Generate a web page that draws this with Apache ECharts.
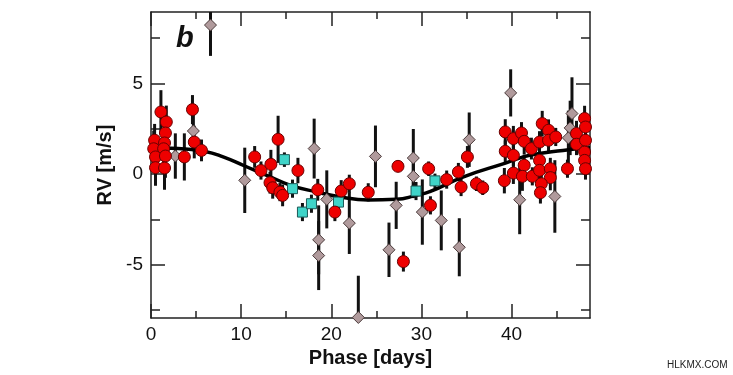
<!DOCTYPE html>
<html>
<head>
<meta charset="utf-8">
<script src="https://cdn.jsdelivr.net/npm/echarts@6/dist/echarts.min.js"></script>
<style>
  html, body { margin: 0; padding: 0; background: #fff; }
  #main { width: 733px; height: 375px; }
</style>
</head>
<body>
<div id="main"></div>
<script>
// [phase, rv, error]
var redPoints = [
  [1.1, 3.43, 1.2], [1.7, 2.88, 0.9], [1.6, 2.27, 1.0], [0.4, 1.87, 0.9], [1.5, 1.72, 0.9],
  [0.3, 1.4, 1.0], [1.4, 1.4, 0.8], [0.5, 0.95, 1.1], [1.6, 1.0, 1.2], [0.5, 0.36, 1.0],
  [1.5, 0.34, 1.2], [3.7, 0.95, 1.3], [4.6, 3.56, 0.8], [4.8, 1.77, 0.9], [5.6, 1.31, 0.6],
  [11.5, 0.95, 0.6], [12.2, 0.2, 0.5], [13.3, 0.54, 0.8], [13.2, -0.47, 0.6], [13.5, -0.75, 0.6],
  [14.1, 1.92, 1.3], [14.3, -0.99, 0.5], [14.6, -1.17, 0.6], [16.3, 0.2, 0.7], [18.5, -0.86, 0.6],
  [20.4, -2.09, 0.5], [21.1, -0.93, 0.6], [22.0, -0.53, 0.5], [24.1, -1.0, 0.5], [27.4, 0.43, 0.3],
  [28.0, -4.82, 0.55], [30.8, 0.3, 0.4], [31.0, -1.72, 0.5], [32.8, -0.3, 0.5], [34.1, 0.12, 0.5],
  [34.4, -0.71, 0.5], [35.1, 0.95, 0.6], [36.1, -0.53, 0.4], [36.8, -0.75, 0.4],
  [39.3, 2.33, 0.7], [39.3, 1.26, 0.6], [39.2, -0.36, 0.7], [40.2, 1.96, 0.7], [40.2, 1.04, 0.6],
  [40.2, 0.06, 0.6], [41.1, 2.27, 0.6], [41.4, 1.81, 0.7], [41.4, 0.49, 0.6], [41.2, -0.12, 0.8],
  [42.2, 1.41, 0.6], [42.3, -0.12, 0.5], [43.1, 1.77, 0.6], [43.4, 2.79, 0.7], [44.1, 2.42, 0.6],
  [44.1, 1.87, 0.6], [44.9, 2.05, 0.5], [43.1, 0.76, 0.6], [43.1, 0.21, 0.6], [44.3, 0.3, 0.6],
  [44.3, -0.19, 0.7], [43.3, -0.53, 0.6], [43.2, -1.02, 0.6], [46.2, 0.3, 0.5], [47.2, 2.24, 0.7],
  [47.2, 1.65, 0.6], [48.1, 3.07, 0.7], [48.2, 2.6, 0.6], [48.2, 1.87, 0.6], [48.1, 1.22, 0.6],
  [48.1, 0.76, 0.6], [48.2, 0.3, 0.6]
];
var diamondPoints = [
  [6.6, 8.22, 1.7], [2.7, 1.0, 1.25], [4.7, 2.38, 1.0], [10.4, -0.34, 1.8], [18.1, 1.41, 1.65],
  [19.5, -1.39, 1.6], [18.6, -3.62, 1.9], [18.6, -4.49, 1.9], [22.0, -2.7, 1.7], [23.0, -7.9, 2.3],
  [24.9, 0.98, 1.7], [27.2, -1.72, 1.3], [26.4, -4.17, 1.5], [29.1, 0.89, 1.6], [29.1, -0.12, 1.2],
  [30.1, -2.09, 1.8], [32.2, -2.55, 1.65], [34.2, -4.03, 1.6], [35.3, 1.9, 1.5], [39.9, 4.48, 1.3],
  [40.9, -1.41, 1.9], [44.8, -1.23, 2.0], [46.7, 3.34, 2.0], [46.5, 2.55, 1.5], [46.3, 2.0, 1.5]
];
var squarePoints = [
  [14.8, 0.8, 0.4], [15.7, -0.8, 0.5], [16.8, -2.09, 0.5], [17.8, -1.63, 0.5],
  [20.8, -1.54, 0.4], [29.4, -0.93, 0.5], [31.5, -0.37, 0.4]
];
// fitted curve
var curveX = [0, 3, 6, 8, 10.4, 13.3, 15.4, 18.5, 20.9, 24.1, 27.2, 29.4, 31, 34.6, 39.4, 42, 45.7, 48.7];
var curveY = [1.45, 1.42, 1.25, 0.95, 0.45, -0.16, -0.6, -1.0, -1.25, -1.42, -1.39, -1.17, -0.95, -0.16, 0.62, 1.04, 1.31, 1.45];

var xLabels = [0, 10, 20, 30, 40];
var xMinorTicks = [5, 15, 25, 35, 45];
var yLabels = [-5, 0, 5];
var yMinorTicks = [-7.5, -2.5, 2.5, 7.5];

var X_MIN = 0, X_MAX = 48.7, Y_MIN = -7.93, Y_MAX = 8.94;
var FONT = 'Liberation Sans, Arial, sans-serif';

var myChart = echarts.init(document.getElementById('main'));

function xAx(pos, ticks, len, showLine, labels) {
  return {
    type: 'value', position: pos, min: X_MIN, max: X_MAX,
    axisLine: { show: showLine, onZero: false, lineStyle: { color: '#222', width: 1.5 } },
    axisTick: { show: true, inside: true, length: len, customValues: ticks, lineStyle: { color: '#222', width: 1.5 } },
    axisLabel: labels ? { customValues: labels, fontSize: 19, color: '#111', fontFamily: FONT, margin: 7 } : { show: false },
    splitLine: { show: false }
  };
}
function yAx(pos, ticks, len, showLine, labels) {
  return {
    type: 'value', position: pos, min: Y_MIN, max: Y_MAX,
    axisLine: { show: showLine, onZero: false, lineStyle: { color: '#222', width: 1.5 } },
    axisTick: { show: true, inside: true, length: len, customValues: ticks, lineStyle: { color: '#222', width: 1.5 } },
    axisLabel: labels ? { customValues: labels, fontSize: 19, color: '#111', fontFamily: FONT, margin: 8 } : { show: false },
    splitLine: { show: false }
  };
}

var xAxes = [
  xAx('bottom', xLabels, 14, true, xLabels),
  xAx('bottom', xMinorTicks, 7, false, null),
  xAx('top', xLabels, 14, true, null),
  xAx('top', xMinorTicks, 7, false, null)
];
xAxes[0].name = 'Phase [days]';
xAxes[0].nameLocation = 'middle';
xAxes[0].nameGap = 30;
xAxes[0].nameTextStyle = { fontSize: 20, fontWeight: 'bold', color: '#111', fontFamily: FONT };

var yAxes = [
  yAx('left', yLabels, 14, true, yLabels),
  yAx('left', yMinorTicks, 9, false, null),
  yAx('right', yLabels, 14, true, null),
  yAx('right', yMinorTicks, 9, false, null)
];
yAxes[0].name = 'RV [m/s]';
yAxes[0].nameLocation = 'middle';
yAxes[0].nameGap = 28;
yAxes[0].nameTextStyle = { fontSize: 20, fontWeight: 'bold', color: '#111', fontFamily: FONT };

function errorBars(points) {
  return {
    type: 'custom',
    z: 1,
    silent: true,
    data: points,
    renderItem: function (params, api) {
      var x = api.value(0), y = api.value(1), e = api.value(2);
      var p1 = api.coord([x, Math.max(y - e, Y_MIN)]);
      var p2 = api.coord([x, Math.min(y + e, Y_MAX)]);
      return {
        type: 'line',
        shape: { x1: p1[0], y1: p1[1], x2: p2[0], y2: p2[1] },
        style: { stroke: '#111', lineWidth: 3 }
      };
    }
  };
}

var option = {
  animation: false,
  grid: { left: 151, right: 143, top: 12, bottom: 57 },
  xAxis: xAxes,
  yAxis: yAxes,
  graphic: [
    { type: 'text', left: 176, top: 24,
      style: { text: 'b', fontSize: 29, fontWeight: 'bold', fontStyle: 'italic', fill: '#111', fontFamily: FONT } },
    { type: 'text', left: 667, top: 360,
      style: { text: 'HLKMX.COM', fontSize: 10, fill: '#222', fontFamily: FONT } }
  ],
  series: [
    errorBars(diamondPoints),
    errorBars(squarePoints),
    errorBars(redPoints),
    {
      type: 'line', z: 2, smooth: true, showSymbol: false,
      data: curveX.map(function (x, i) { return [x, curveY[i]]; }),
      lineStyle: { color: '#000', width: 3.5 }
    },
    {
      type: 'scatter', z: 3, symbol: 'diamond', symbolSize: 12,
      data: diamondPoints.map(function (p) { return [p[0], p[1]]; }),
      itemStyle: { color: '#b09a9c', borderColor: '#4a3a3a', borderWidth: 1, opacity: 1 }
    },
    {
      type: 'scatter', z: 3, symbol: 'rect', symbolSize: 10,
      data: squarePoints.map(function (p) { return [p[0], p[1]]; }),
      itemStyle: { color: '#3fd4c8', borderColor: '#1d5a58', borderWidth: 1, opacity: 1 }
    },
    {
      type: 'scatter', z: 4, symbol: 'circle', symbolSize: 12,
      data: redPoints.map(function (p) { return [p[0], p[1]]; }),
      itemStyle: { color: '#ee0000', borderColor: '#6a0000', borderWidth: 1, opacity: 1 }
    }
  ]
};
myChart.setOption(option);
</script>
</body>
</html>
